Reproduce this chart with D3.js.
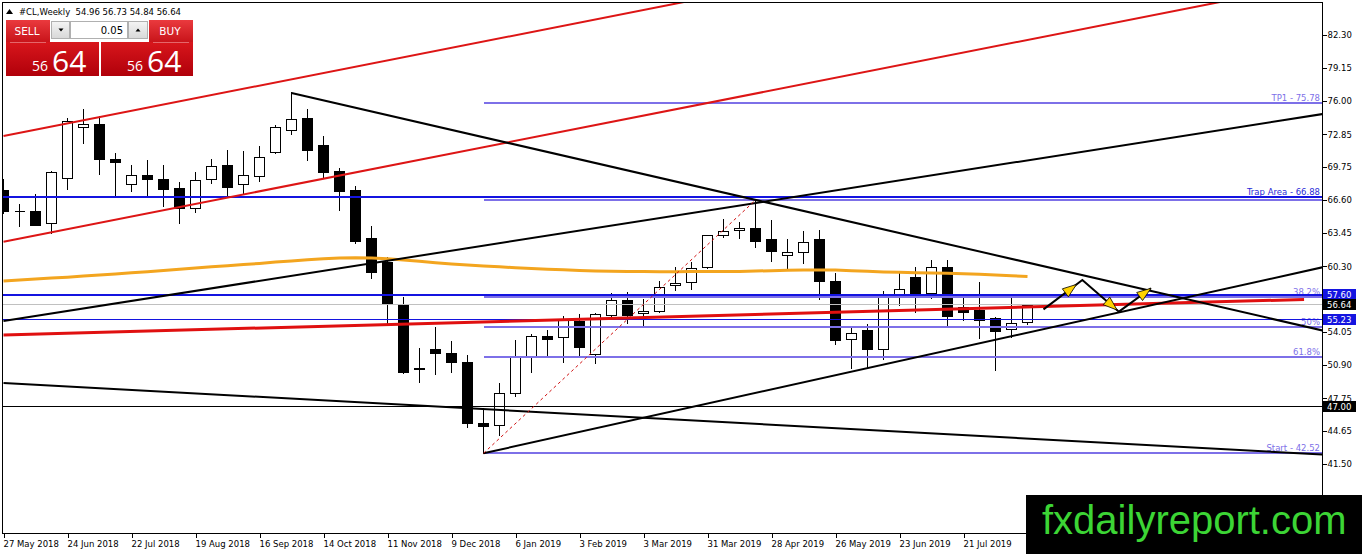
<!DOCTYPE html>
<html>
<head>
<meta charset="utf-8">
<script src="https://cdn.jsdelivr.net/npm/d3@7"></script>
<style>
  body { margin: 0; background: #fff; }
  svg { display: block; }
</style>
</head>
<body>
<svg id="chart" width="1362" height="554"></svg>
<script>
// weekly bars, #CL
const dates = [
  '2018-05-27', '2018-06-03', '2018-06-10', '2018-06-17', '2018-06-24', '2018-07-01', '2018-07-08', '2018-07-15',
  '2018-07-22', '2018-07-29', '2018-08-05', '2018-08-12', '2018-08-19', '2018-08-26', '2018-09-02', '2018-09-09',
  '2018-09-16', '2018-09-23', '2018-09-30', '2018-10-07', '2018-10-14', '2018-10-21', '2018-10-28', '2018-11-04',
  '2018-11-11', '2018-11-18', '2018-11-25', '2018-12-02', '2018-12-09', '2018-12-16', '2018-12-23', '2018-12-30',
  '2019-01-06', '2019-01-13', '2019-01-20', '2019-01-27', '2019-02-03', '2019-02-10', '2019-02-17', '2019-02-24',
  '2019-03-03', '2019-03-10', '2019-03-17', '2019-03-24', '2019-03-31', '2019-04-07', '2019-04-14', '2019-04-21',
  '2019-04-28', '2019-05-05', '2019-05-12', '2019-05-19', '2019-05-26', '2019-06-02', '2019-06-09', '2019-06-16',
  '2019-06-23', '2019-06-30', '2019-07-07', '2019-07-14', '2019-07-21', '2019-07-28', '2019-08-04', '2019-08-11',
  '2019-08-18'
]
const open = [
  67.56, 65.60, 65.56, 64.39, 68.67, 73.52, 73.84, 70.51, 68.10, 68.96,
  68.58, 67.72, 65.82, 68.58, 69.91, 68.10, 68.89, 71.14, 73.24, 74.41,
  71.81, 69.37, 67.53, 62.97, 60.74, 56.72, 50.55, 52.41, 52.03, 51.17,
  45.37, 45.18, 48.23, 51.71, 53.67, 53.55, 55.10, 51.93, 55.70, 57.10,
  55.83, 56.08, 58.50, 58.78, 60.21, 63.28, 63.73, 63.92, 62.87, 61.35,
  61.63, 62.87, 58.90, 53.36, 54.25, 52.47, 57.57, 59.26, 57.74, 60.20,
  56.46, 56.15, 55.36, 54.31, 54.96
]
const high = [
  68.61, 66.23, 67.18, 69.37, 74.38, 75.26, 74.63, 71.08, 69.91, 70.41,
  69.91, 68.32, 69.27, 70.48, 71.33, 71.27, 71.74, 73.74, 76.85, 75.26,
  72.69, 69.68, 67.97, 64.14, 61.22, 57.38, 52.50, 54.50, 53.17, 51.87,
  46.86, 49.23, 53.29, 53.84, 54.25, 55.58, 55.77, 55.83, 57.73, 57.83,
  57.19, 58.88, 60.26, 60.74, 63.30, 64.77, 64.54, 66.60, 64.71, 62.87,
  63.66, 63.75, 59.69, 54.40, 54.79, 57.95, 59.88, 60.20, 60.90, 60.90,
  57.36, 58.84, 55.51, 57.36, 56.73
]
const low = [
  65.40, 64.14, 64.20, 63.50, 67.68, 72.06, 69.11, 66.92, 67.49, 66.92,
  66.07, 64.39, 65.50, 68.20, 66.92, 67.30, 68.44, 71.05, 72.91, 70.44,
  68.67, 65.69, 62.55, 59.22, 54.88, 50.13, 49.33, 50.03, 50.28, 45.05,
  42.52, 44.26, 47.99, 50.28, 51.71, 51.23, 51.80, 51.14, 55.45, 54.94,
  54.63, 55.99, 58.05, 58.12, 60.10, 63.06, 62.97, 62.17, 60.84, 59.95,
  60.59, 57.22, 52.91, 50.60, 50.75, 51.46, 56.62, 55.99, 57.26, 54.63,
  55.20, 53.46, 50.44, 53.55, 54.84
]
const close = [
  65.59, 65.55, 64.26, 69.24, 74.15, 73.84, 70.54, 70.25, 68.96, 68.58,
  67.68, 65.88, 68.48, 69.81, 67.82, 68.96, 70.67, 73.52, 74.28, 71.39,
  69.30, 67.49, 62.71, 59.79, 56.75, 50.28, 50.62, 52.09, 51.17, 45.37,
  45.09, 48.23, 51.65, 53.67, 53.42, 55.20, 52.66, 55.77, 57.10, 55.70,
  56.05, 58.31, 58.74, 60.11, 63.28, 63.69, 63.92, 62.74, 61.79, 61.63,
  62.64, 58.93, 53.29, 53.99, 52.47, 57.41, 58.12, 57.67, 60.26, 55.60,
  55.99, 55.20, 54.18, 54.88, 56.64
]
// orange moving average, one value per bar
const maValues = [
  58.90, 59.00, 59.10, 59.18, 59.27, 59.38, 59.48, 59.58, 59.68, 59.78,
  59.90, 60.02, 60.14, 60.25, 60.36, 60.47, 60.58, 60.70, 60.81, 60.92,
  61.02, 61.09, 61.11, 61.09, 61.02, 60.90, 60.78, 60.65, 60.52, 60.42,
  60.33, 60.25, 60.17, 60.09, 60.03, 59.97, 59.91, 59.86, 59.83, 59.81,
  59.80, 59.79, 59.79, 59.80, 59.81, 59.81, 59.81, 59.85, 59.89, 59.93,
  59.95, 59.96, 59.95, 59.88, 59.82, 59.76, 59.73, 59.70, 59.67, 59.63,
  59.59, 59.54, 59.48, 59.41, 59.33
]

// 57.15 and 38.35 sit under the price boxes / watermark, so they are left out
const priceTicks = [82.30, 79.15, 76.00, 72.85, 69.75, 66.60, 63.45, 60.30, 54.05, 50.90, 47.75, 44.65, 41.50]
const dateTicks = ['2018-05-27', '2018-06-24', '2018-07-22', '2018-08-19', '2018-09-16', '2018-10-14', '2018-11-11',
  '2018-12-09', '2019-01-06', '2019-02-03', '2019-03-03', '2019-03-31', '2019-04-28', '2019-05-26', '2019-06-23',
  '2019-07-21']

// trend lines: two anchors [date, price]
const redChannelTop = [['2018-05-27', 72.69], ['2019-03-17', 85.28]]
const redChannelBottom = [['2018-05-27', 62.64], ['2019-08-18', 81.83]]
const redSupport = [['2018-05-27', 53.77], ['2019-12-17', 57.15]]
const blackFromTop = [['2018-09-30', 76.78], ['2019-08-18', 60.66]]
const blackRising = [['2018-05-27', 55.10], ['2019-08-18', 70.38]]
const blackFromLow = [['2018-12-23', 42.52], ['2019-08-18', 53.99]]
const blackFalling = [['2018-05-27', 49.20], ['2019-08-18', 43.92]]
const projection = [['2019-08-25', 56.21], ['2019-09-11', 59.00], ['2019-09-27', 55.99], ['2019-10-11', 58.21]]

// fibonacci
const fibLow = ['2018-12-23', 42.52]
const fibHigh = ['2019-04-21', 66.60]
const fibRatios = [-0.382, 0, 0.382, 0.5, 0.618, 1]
const fibLabels = ['TP1 - 75.78', '', '38.2%', '50%', '61.8%', 'Start - 42.52']

// horizontal levels
const trapLevel = 66.88
const blueLevels = [57.60, 55.23]
const bidPrice = 56.64
const roundLevel = 47.00
const headerOHLC = [54.96, 56.73, 54.84, 56.64]

const W = 1362
const H = 554
const plot = { left: 3, top: 3, right: 1322, bottom: 533 }
const FONT = '"DejaVu Sans", Tahoma, sans-serif'

const parse = d3.utcParse('%Y-%m-%d')
const x = d3.scaleUtc()
  .domain([parse('2018-05-27'), parse('2019-12-15')])
  .range([3.5, 3.5 + 16 * 81])
const y = d3.scaleLinear().domain([82.30, 41.50]).range([35, 464])
const px = v => Math.round(v - 0.5) + 0.5

const svg = d3.select('#chart')
svg.append('rect').attr('width', W).attr('height', H).attr('fill', '#fff')

const defs = svg.append('defs')
defs.append('clipPath').attr('id', 'plotClip').append('rect')
  .attr('x', plot.left).attr('y', plot.top)
  .attr('width', plot.right - plot.left).attr('height', plot.bottom - plot.top)

function gradient (id, top, bottom) {
  const lg = defs.append('linearGradient').attr('id', id).attr('x1', 0).attr('y1', 0).attr('x2', 0).attr('y2', 1)
  lg.append('stop').attr('offset', '0%').attr('stop-color', top)
  lg.append('stop').attr('offset', '100%').attr('stop-color', bottom)
}
gradient('redTop', '#ea3a3e', '#c8141a')
gradient('redBig', '#d8161c', '#b0000a')
gradient('btn', '#f4f4f4', '#d8d8d8')

const g = svg.append('g').attr('clip-path', 'url(#plotClip)')

// candles
const bars = dates.map((d, i) => ({ t: parse(d), o: open[i], h: high[i], l: low[i], c: close[i] }))

g.selectAll('line.wick')
  .data(bars)
  .enter()
  .append('line')
  .attr('class', 'wick')
  .attr('x1', d => px(x(d.t)))
  .attr('x2', d => px(x(d.t)))
  .attr('y1', d => Math.round(y(d.h)))
  .attr('y2', d => Math.round(y(d.l)) + 1)
  .attr('stroke', '#000')
  .attr('shape-rendering', 'crispEdges')

g.selectAll('path.body')
  .data(bars)
  .enter()
  .append('path')
  .attr('class', 'body')
  .attr('d', d => {
    const cx = px(x(d.t))
    const t = Math.round(y(Math.max(d.o, d.c))) + 0.5
    const b = Math.round(y(Math.min(d.o, d.c))) + 0.5
    return `M${cx - 5},${t}H${cx + 5}V${b}H${cx - 5}Z`
  })
  .attr('fill', d => d.c >= d.o ? '#fff' : '#000')
  .attr('stroke', '#000')
  .attr('shape-rendering', 'crispEdges')

// moving average
const maLine = d3.line().x(d => x(d.t)).y(d => y(d.v))
g.append('path')
  .datum(bars.map((b, i) => ({ t: b.t, v: maValues[i] })))
  .attr('d', maLine)
  .attr('fill', 'none')
  .attr('stroke', '#f3a51f')
  .attr('stroke-width', 3)

// helpers for objects
function toPx (p) { return [x(parse(p[0])), y(p[1])] }
function drawTrend (pts, ray, color, width, dash) {
  const a = toPx(pts[0])
  let b = toPx(pts[1])
  if (ray) {
    const k = (b[1] - a[1]) / (b[0] - a[0])
    const xe = plot.right + 40
    b = [xe, a[1] + k * (xe - a[0])]
  }
  g.append('line')
    .attr('x1', a[0]).attr('y1', a[1]).attr('x2', b[0]).attr('y2', b[1])
    .attr('stroke', color).attr('stroke-width', width)
    .attr('stroke-dasharray', dash || null)
}
function hLine (price, x0, color, width) {
  const yy = width % 2 ? px(y(price)) : Math.round(y(price))
  g.append('line')
    .attr('x1', x0).attr('x2', plot.right).attr('y1', yy).attr('y2', yy)
    .attr('stroke', color).attr('stroke-width', width)
    .attr('shape-rendering', 'crispEdges')
}
function lineLabel (price, text, color) {
  g.append('text')
    .attr('x', plot.right - 2).attr('y', y(price) - 2)
    .attr('text-anchor', 'end')
    .attr('font-family', FONT).attr('font-size', 8.5)
    .attr('fill', color)
    .text(text)
}

// fibonacci levels
const fibX0 = x(parse(fibLow[0]))
const fibRange = fibHigh[1] - fibLow[1]
fibRatios.forEach((r, i) => {
  const price = fibHigh[1] - r * fibRange
  hLine(price, fibX0, '#7d70e8', 2)
  if (fibLabels[i]) lineLabel(price, fibLabels[i], '#7d70e8')
})

// horizontal lines
hLine(bidPrice, plot.left, '#c0c0c0', 1)
hLine(roundLevel, plot.left, '#000', 1)
hLine(trapLevel, plot.left, '#1414e0', 2)
hLine(blueLevels[0], plot.left, '#1414e0', 2)
hLine(blueLevels[1], plot.left, '#1414e0', 1)
lineLabel(trapLevel, 'Trap Area - ' + trapLevel.toFixed(2), '#2a2ad8')

// trend lines
drawTrend(redChannelTop, true, '#dd1515', 2)
drawTrend(redChannelBottom, true, '#dd1515', 2)
drawTrend(redSupport, false, '#e01010', 3)
drawTrend(blackFromTop, true, '#000', 2)
drawTrend(blackRising, true, '#000', 2)
drawTrend(blackFromLow, true, '#000', 2)
drawTrend(blackFalling, true, '#000', 2)
drawTrend([fibLow, fibHigh], false, '#d01010', 1, '3,3')

// projected path with arrow heads
const projPx = projection.map(toPx)
g.append('path')
  .attr('d', d3.line()(projPx))
  .attr('fill', 'none')
  .attr('stroke', '#000')
  .attr('stroke-width', 2)
const tipAt = [0.85, 0.95, 1]
for (let i = 0; i < projPx.length - 1; i++) {
  const [x1, y1] = projPx[i]
  const [x2, y2] = projPx[i + 1]
  const len = Math.hypot(x2 - x1, y2 - y1)
  const ux = (x2 - x1) / len
  const uy = (y2 - y1) / len
  const tx = x1 + (x2 - x1) * tipAt[i]
  const ty = y1 + (y2 - y1) * tipAt[i]
  const bx = tx - ux * 14
  const by = ty - uy * 14
  g.append('path')
    .attr('d', `M${tx},${ty}L${bx - uy * 5},${by + ux * 5}L${bx + uy * 5},${by - ux * 5}Z`)
    .attr('fill', '#ffd200')
    .attr('stroke', '#000')
    .attr('stroke-width', 0.8)
}

// frame
svg.append('path')
  .attr('d', `M${plot.left - 0.5},${plot.bottom + 0.5}V${plot.top - 0.5}H${plot.right + 0.5}V${plot.bottom + 0.5}Z`)
  .attr('fill', 'none')
  .attr('stroke', '#000')
  .attr('shape-rendering', 'crispEdges')

// price axis
const yAxis = svg.append('g')
  .attr('transform', `translate(${plot.right + 0.5},0)`)
  .call(d3.axisRight(y).tickValues(priceTicks).tickFormat(d3.format('.2f')).tickSize(4).tickPadding(1))
yAxis.select('.domain').remove()
yAxis.selectAll('text').attr('font-family', FONT).attr('font-size', 8.5).attr('fill', '#000')
yAxis.selectAll('line').attr('stroke', '#000').attr('shape-rendering', 'crispEdges')

// time axis
const xAxis = svg.append('g')
  .attr('transform', `translate(0,${plot.bottom + 0.5})`)
  .call(d3.axisBottom(x).tickValues(dateTicks.map(parse)).tickFormat(d3.utcFormat('%-d %b %Y')).tickSize(4).tickPadding(3))
xAxis.select('.domain').remove()
xAxis.selectAll('text').attr('font-family', FONT).attr('font-size', 8.5).attr('fill', '#000').attr('text-anchor', 'start').attr('x', -0.5)
xAxis.selectAll('line').attr('stroke', '#000').attr('shape-rendering', 'crispEdges')

// price boxes on the axis
const boxes = [
  { v: blueLevels[1], bg: '#1414e0' },
  { v: blueLevels[0], bg: '#1414e0' },
  { v: bidPrice, bg: '#000' },
  { v: roundLevel, bg: '#000' }
]
boxes.forEach(b => {
  const cy = y(b.v)
  svg.append('rect')
    .attr('x', plot.right + 1).attr('y', Math.round(cy - 5.5))
    .attr('width', 33).attr('height', 11)
    .attr('fill', b.bg)
  svg.append('text')
    .attr('x', plot.right + 5).attr('y', Math.round(cy - 5.5) + 9)
    .attr('font-family', FONT).attr('font-size', 8.5)
    .attr('fill', '#fff')
    .text(b.v.toFixed(2))
})

// header
svg.append('path').attr('d', 'M6,14L9.5,9L13,14Z').attr('fill', '#000')
svg.append('text')
  .attr('x', 19).attr('y', 15)
  .attr('font-family', FONT).attr('font-size', 8.5).attr('fill', '#000')
  .attr('xml:space', 'preserve')
  .text('#CL,Weekly  ' + headerOHLC.map(v => v.toFixed(2)).join(' '))

// one click trading panel
const panel = svg.append('g')
panel.append('rect').attr('x', 6).attr('y', 20).attr('width', 44).attr('height', 22).attr('fill', 'url(#redTop)')
panel.append('rect').attr('x', 149).attr('y', 20).attr('width', 44).attr('height', 22).attr('fill', 'url(#redTop)')
panel.append('rect').attr('x', 6).attr('y', 42).attr('width', 93).attr('height', 34).attr('fill', 'url(#redBig)')
panel.append('rect').attr('x', 101).attr('y', 42).attr('width', 92).attr('height', 34).attr('fill', 'url(#redBig)')
panel.append('line').attr('x1', 10).attr('x2', 46).attr('y1', 42.5).attr('y2', 42.5).attr('stroke', 'rgba(255,255,255,0.35)')
panel.append('line').attr('x1', 153).attr('x2', 189).attr('y1', 42.5).attr('y2', 42.5).attr('stroke', 'rgba(255,255,255,0.35)')
panel.append('rect').attr('x', 51.5).attr('y', 21.5).attr('width', 18).attr('height', 17).attr('fill', 'url(#btn)').attr('stroke', '#b0b0b0')
panel.append('rect').attr('x', 70.5).attr('y', 21.5).attr('width', 57).attr('height', 17).attr('fill', '#fff').attr('stroke', '#b0b0b0')
panel.append('rect').attr('x', 128.5).attr('y', 21.5).attr('width', 19).attr('height', 17).attr('fill', 'url(#btn)').attr('stroke', '#b0b0b0')
panel.append('path').attr('d', 'M58.5,28.5L63.5,28.5L61,31.5Z').attr('fill', '#000')
panel.append('path').attr('d', 'M135.5,31.5L140.5,31.5L138,28.5Z').attr('fill', '#000')

function panelText (tx, ty, size, text, anchor, color, family) {
  panel.append('text')
    .attr('x', tx).attr('y', ty)
    .attr('text-anchor', anchor)
    .attr('font-family', family || FONT).attr('font-size', size)
    .attr('fill', color)
    .text(text)
}
panelText(27, 35, 10.5, 'SELL', 'middle', '#fff')
panelText(170, 35, 10.5, 'BUY', 'middle', '#fff')
panelText(123, 34, 10, '0.05', 'end', '#000')
const bidStr = bidPrice.toFixed(2).replace('.', '')
panelText(48, 71, 14, bidStr.slice(0, 2), 'end', '#fff', '"Open Sans", sans-serif')
panelText(52, 72, 30, bidStr.slice(2), 'start', '#fff', '"Open Sans", sans-serif')
panelText(143, 71, 14, bidStr.slice(0, 2), 'end', '#fff', '"Open Sans", sans-serif')
panelText(147, 72, 30, bidStr.slice(2), 'start', '#fff', '"Open Sans", sans-serif')

// watermark
svg.append('rect').attr('x', 1026).attr('y', 495).attr('width', W - 1026).attr('height', H - 495).attr('fill', '#000')
svg.append('text')
  .attr('x', 1042).attr('y', 534)
  .attr('font-family', '"Liberation Sans", Arial, sans-serif')
  .attr('font-size', 40)
  .attr('fill', '#3cd535')
  .text('fxdailyreport.com')
</script>
</body>
</html>
